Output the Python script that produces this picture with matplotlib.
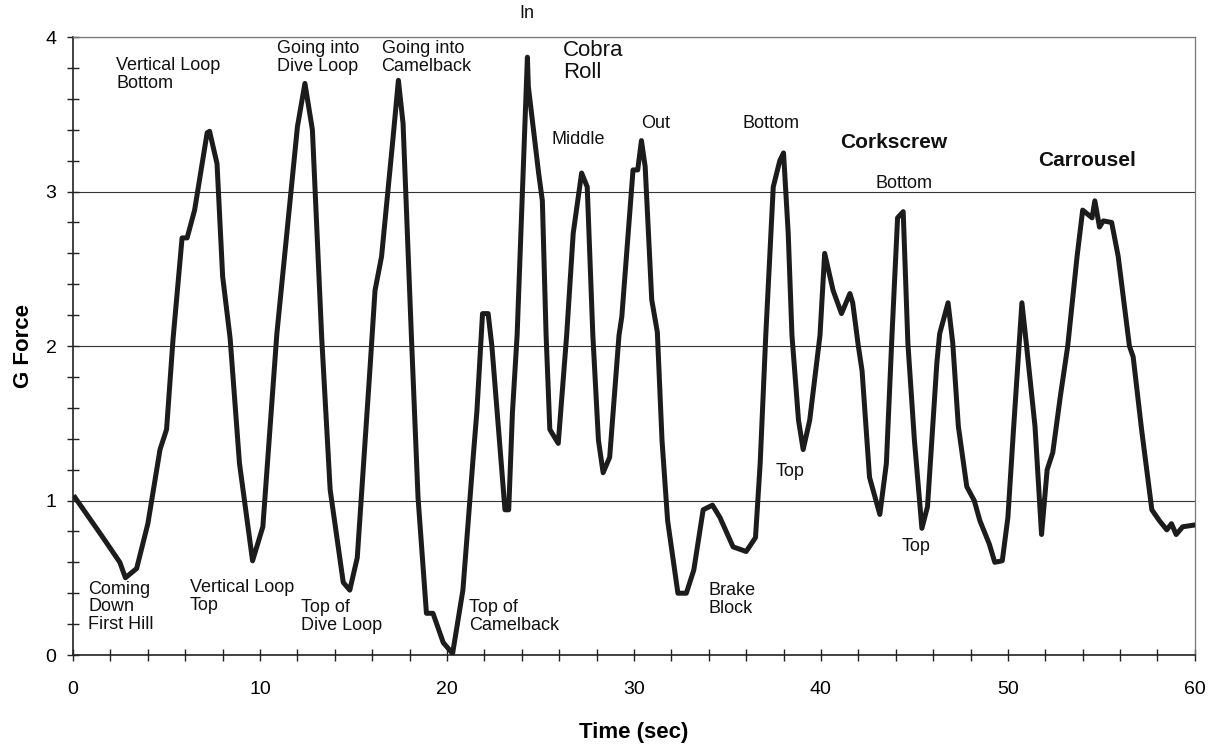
import matplotlib.pyplot as plt
from matplotlib.ticker import MultipleLocator

plt.rcParams['font.family'] = ['Liberation Sans', 'DejaVu Sans']

# G force trace
time = [0.1, 1.6, 2.5, 2.8, 3.4, 4.0, 4.65, 5.0, 5.35, 5.83, 6.1, 6.5, 7.17, 7.3,
        7.7, 8.0, 8.4, 8.9, 9.6, 10.15, 10.9, 11.45, 12.0, 12.4, 12.8, 13.3,
        13.75, 14.3, 14.45, 14.8, 15.2, 15.9, 16.15, 16.5, 17.1, 17.4, 17.65,
        18.1, 18.45, 18.9, 19.25, 19.8, 20.3, 20.85, 21.4, 21.6, 21.9, 22.2,
        22.4, 23.1, 23.3, 23.5, 23.75, 24.3, 24.35, 24.9, 25.1, 25.3, 25.5,
        25.95, 26.4, 26.75, 27.2, 27.5, 27.8, 28.1, 28.35, 28.7, 29.2, 29.35,
        29.95, 30.2, 30.4, 30.6, 30.95, 31.25, 31.5, 31.8, 32.35, 32.8, 33.2,
        33.7, 34.2, 34.6, 35.3, 36.0, 36.5, 36.75, 37.05, 37.45, 37.8, 38.0,
        38.25, 38.45, 38.8, 39.05, 39.4, 39.95, 40.2, 40.65, 41.1, 41.55,
        41.7, 42.0, 42.2, 42.6, 43.15, 43.5, 43.8, 44.1, 44.4, 44.65, 45.0,
        45.4, 45.7, 46.2, 46.35, 46.8, 47.05, 47.35, 47.8, 48.2, 48.5, 49.0,
        49.3, 49.7, 50.0, 50.3, 50.65, 50.75, 51.0, 51.45, 51.8, 52.1, 52.4,
        52.8, 53.2, 53.7, 54.0, 54.5, 54.65, 54.9, 55.1, 55.55, 55.9, 56.5,
        56.7, 57.15, 57.7, 58.1, 58.5, 58.75, 59.0, 59.35, 59.9]
gforce = [1.02, 0.76, 0.6, 0.5, 0.56, 0.85, 1.33, 1.46, 2.05, 2.7, 2.7, 2.88, 3.38,
          3.39, 3.18, 2.45, 2.05, 1.24, 0.61, 0.83, 2.08, 2.75, 3.42, 3.7, 3.4,
          2.05, 1.07, 0.6, 0.47, 0.42, 0.63, 1.89, 2.36, 2.58, 3.33, 3.72, 3.44,
          2.05, 1.02, 0.27, 0.27, 0.08, 0.01, 0.42, 1.28, 1.58, 2.21, 2.21,
          2.0, 0.94, 0.94, 1.57, 2.07, 3.87, 3.68, 3.12, 2.94, 2.07, 1.46,
          1.37, 2.07, 2.73, 3.12, 3.03, 2.07, 1.39, 1.18, 1.28, 2.07, 2.19,
          3.14, 3.14, 3.33, 3.16, 2.3, 2.09, 1.39, 0.87, 0.4, 0.4, 0.55,
          0.94, 0.97, 0.89, 0.7, 0.67, 0.76, 1.24, 2.07, 3.03, 3.2, 3.25,
          2.73, 2.07, 1.52, 1.33, 1.52, 2.07, 2.6, 2.36, 2.21, 2.34,
          2.28, 2.0, 1.84, 1.15, 0.91, 1.24, 2.07, 2.83, 2.87, 2.02, 1.39,
          0.82, 0.96, 1.89, 2.08, 2.28, 2.02, 1.48, 1.09, 1.0, 0.87, 0.72,
          0.6, 0.61, 0.89, 1.46, 2.1, 2.28, 2.0, 1.48, 0.78, 1.2, 1.31,
          1.67, 2.0, 2.58, 2.88, 2.83, 2.94, 2.77, 2.81, 2.8, 2.58, 2.0,
          1.93, 1.46, 0.94, 0.87, 0.81, 0.85, 0.78, 0.83, 0.84]

# annotations: text, x, y, vertical anchor, size, weight
labels = [
    ("Vertical Loop\nBottom", 2.3, 3.87, 'top', 13, 'normal'),
    ("Going into\nDive Loop", 10.9, 3.98, 'top', 13, 'normal'),
    ("Going into\nCamelback", 16.5, 3.98, 'top', 13, 'normal'),
    ("In", 23.85, 4.15, 'center', 13, 'normal'),
    ("Cobra\nRoll", 26.2, 3.98, 'top', 16, 'normal'),
    ("Middle", 25.6, 3.34, 'center', 13, 'normal'),
    ("Out", 30.4, 3.44, 'center', 13, 'normal'),
    ("Bottom", 35.8, 3.44, 'center', 13, 'normal'),
    ("Corkscrew", 41.05, 3.32, 'center', 15, 'bold'),
    ("Bottom", 42.9, 3.05, 'center', 13, 'normal'),
    ("Carrousel", 51.6, 3.2, 'center', 15, 'bold'),
    ("Coming\nDown\nFirst Hill", 0.8, 0.48, 'top', 13, 'normal'),
    ("Vertical Loop\nTop", 6.25, 0.49, 'top', 13, 'normal'),
    ("Top of\nDive Loop", 12.2, 0.36, 'top', 13, 'normal'),
    ("Top of\nCamelback", 21.2, 0.36, 'top', 13, 'normal'),
    ("Brake\nBlock", 34.0, 0.47, 'top', 13, 'normal'),
    ("Top", 37.55, 1.19, 'center', 13, 'normal'),
    ("Top", 44.3, 0.7, 'center', 13, 'normal'),
]

fig = plt.figure(figsize=(12.18, 7.49), dpi=100)
ax = fig.add_axes([0.06, 0.1255, 0.921, 0.825])

ax.plot(time, gforce, color='#1c1c1c', linewidth=3.6, solid_joinstyle='round', zorder=3)

ax.set_xlim(0, 60)
ax.set_ylim(0, 4)
ax.xaxis.set_major_locator(MultipleLocator(10))
ax.xaxis.set_minor_locator(MultipleLocator(2))
ax.yaxis.set_major_locator(MultipleLocator(1))
ax.yaxis.set_minor_locator(MultipleLocator(0.2))
ax.tick_params(which='both', direction='inout', length=8, width=1, color='#222222',
               labelsize=14, right=False, top=False)
ax.tick_params(axis='x', pad=15)
ax.tick_params(axis='y', pad=8)
ax.grid(axis='y', which='major', color='#333333', linewidth=0.8)

for s in ['left', 'bottom']:
    ax.spines[s].set_color('#222222')
    ax.spines[s].set_linewidth(1.2)
for s in ['top', 'right']:
    ax.spines[s].set_color('#777777')
    ax.spines[s].set_linewidth(0.9)

ax.set_xlabel("Time (sec)", fontsize=16, fontweight='bold', labelpad=17)
ax.set_ylabel("G Force", fontsize=16, fontweight='bold', labelpad=8)

for txt, x, y, va, size, weight in labels:
    ax.text(x, y, txt, ha='left', va=va, fontsize=size, fontweight=weight,
            color='#111111', linespacing=1.05, clip_on=False)

fig.savefig("out.png", dpi=100)
